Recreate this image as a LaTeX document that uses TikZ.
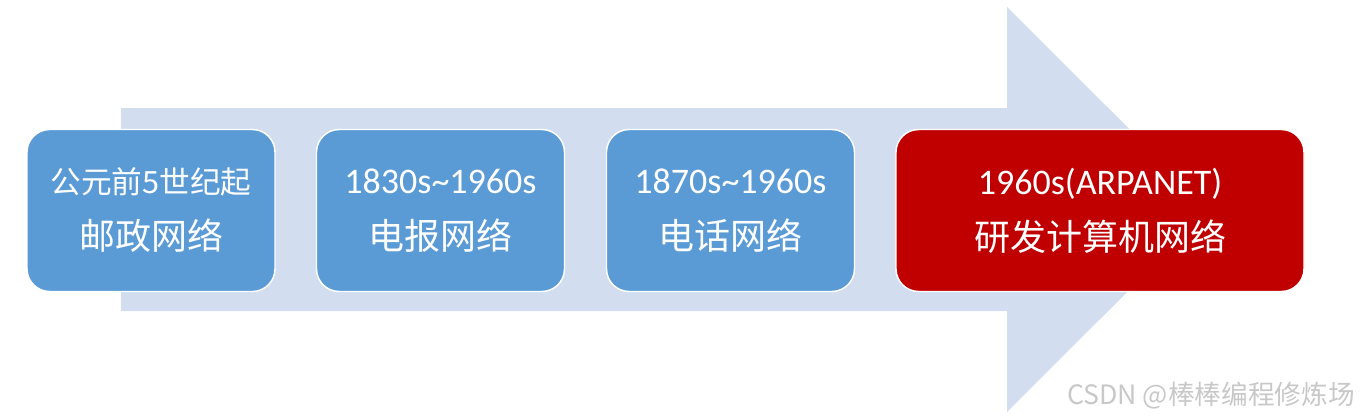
\documentclass[tikz,border=0pt]{standalone}
\usepackage{fontspec}
\setmainfont{Carlito}
\newfontfamily\cjk{Noto Sans CJK SC}
\usepackage{tikz}

\begin{document}
\begin{tikzpicture}[x=0.75pt,y=0.75pt,yscale=-1,xscale=1,
  stage/.style={draw=white, line width=1.1pt, fill={rgb,255:red,91;green,155;blue,213}, rounded corners=17pt, text=white, align=center, minimum width=186pt, minimum height=121.5pt, font=\fontsize{27}{42}\selectfont}
]
\useasboundingbox (0,0) rectangle (1360,419);

%Shape: Arrow [id:background]
\fill [color={rgb, 255:red, 210; green, 222; blue, 239 }] (121,108) -- (1007,108) -- (1007,7) -- (1210,209.5) -- (1007,412) -- (1007,311) -- (121,311) -- cycle ;

% Text Node
\node [stage] (post) at (151,210.5) {{\cjk\fontsize{23}{42}\selectfont 公元前5世纪起}\\{\cjk 邮政网络}};
% Text Node
\node [stage] (telegraph) at (440.5,210.5) {1830s\textasciitilde1960s\\{\cjk 电报网络}};
% Text Node
\node [stage] (telephone) at (730.5,210.5) {1870s\textasciitilde1960s\\{\cjk 电话网络}};
% Text Node
\node [stage, minimum width=306pt, fill={rgb, 255:red, 192; green, 0; blue, 0 }] (arpanet) at (1100,210.5) {1960s(ARPANET)\\{\cjk 研发计算机网络}};

% Text Node
\node [anchor=east, inner sep=0.75pt, text={rgb, 255:red, 200; green, 200; blue, 200 }, font=\cjk\fontsize{20}{20}\selectfont] (mark) at (1356,396) {CSDN @棒棒编程修炼场};

\end{tikzpicture}
\end{document}
